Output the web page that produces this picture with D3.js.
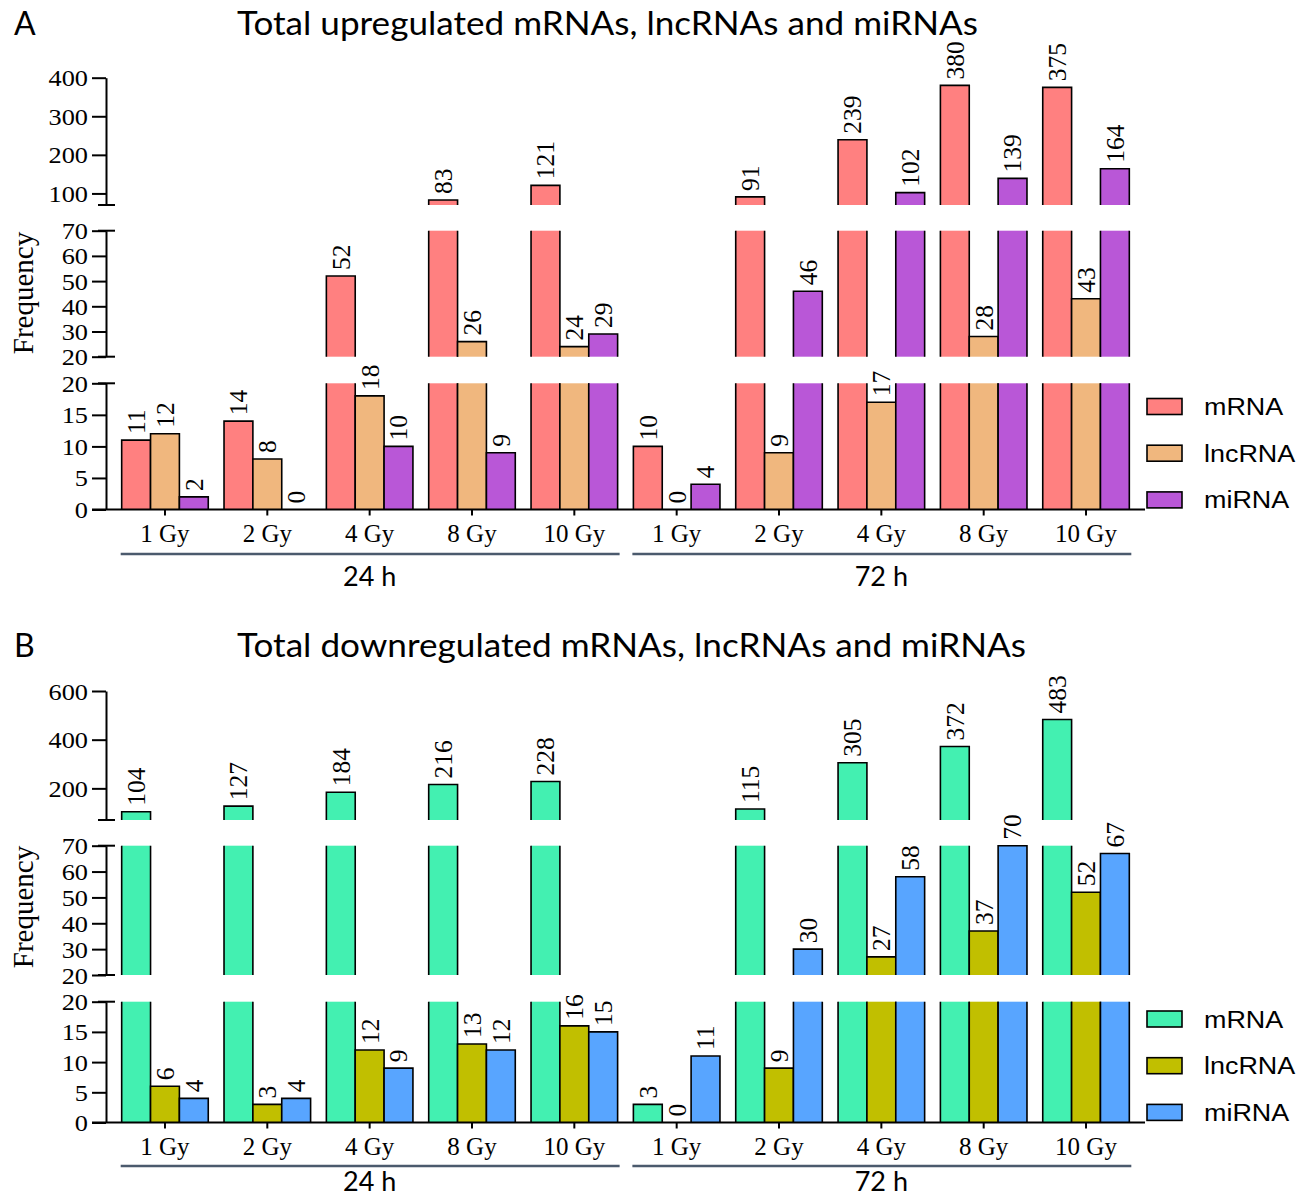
<!DOCTYPE html>
<html><head><meta charset="utf-8">
<script src="https://cdn.jsdelivr.net/npm/d3@7"></script>
<style>
body{margin:0;background:#fff}
svg{display:block}
</style>
</head><body>
<svg id="chart" width="1313" height="1198"></svg>
<script>
// ---- data ----
const doses = ["1 Gy", "2 Gy", "4 Gy", "8 Gy", "10 Gy"];
const timepoints = ["24 h", "72 h"];
const rnaTypes = ["mRNA", "lncRNA", "miRNA"];

// upregulated counts: 24 h (five doses) followed by 72 h (five doses)
const upMRNA    = [11, 14, 52, 83, 121, 10, 91, 239, 380, 375];
const upLncRNA  = [12, 8, 18, 26, 24, 0, 9, 17, 28, 43];
const upMiRNA   = [2, 0, 10, 9, 29, 4, 46, 102, 139, 164];

// downregulated counts
const downMRNA   = [104, 127, 184, 216, 228, 3, 115, 305, 372, 483];
const downLncRNA = [6, 3, 12, 13, 16, 0, 9, 27, 37, 52];
const downMiRNA  = [4, 4, 9, 12, 15, 11, 30, 58, 70, 67];

const upColors   = ["#FF8080", "#F0B77E", "#B957D7"];
const downColors = ["#43F0B1", "#C1BF00", "#58A5FF"];

// broken y-axis pieces and their tick labels
const lowTicks = [0, 5, 10, 15, 20];
const midTicks = [20, 30, 40, 50, 60, 70];
const upTopTicks = [100, 200, 300, 400];
const downTopTicks = [200, 400, 600];

// ---- layout ----
const serif = "'Liberation Serif', 'Times New Roman', serif";
const sans = "'Liberation Sans', Arial, sans-serif";
const titleFont = "Lato, 'Open Sans', sans-serif";
const axisX = 106;

const svg = d3.select("#chart");

const groupKeys = timepoints.flatMap(t => doses.map(d => t + "|" + d));
const x = d3.scaleBand().domain(groupKeys)
  .range([113.8, 1137.2]).paddingInner(0.154).paddingOuter(0.077);
const xSub = d3.scaleBand().domain(rnaTypes).range([0, x.bandwidth()]);

function stretch(sel, factor) {
  sel.each(function () {
    const w = this.getComputedTextLength();
    d3.select(this).attr("textLength", w * factor).attr("lengthAdjust", "spacingAndGlyphs");
  });
}

function drawPanel(cfg) {
  const g = svg.append("g");
  const series = cfg.series;

  // panel letter and title
  g.append("text").attr("x", 14).attr("y", cfg.titleY)
    .attr("font-family", titleFont).attr("font-size", 32).text(cfg.letter);
  g.append("text").attr("x", cfg.titleX).attr("y", cfg.titleY)
    .attr("font-family", titleFont).attr("font-size", 32)
    .attr("textLength", cfg.titleLen).attr("lengthAdjust", "spacingAndGlyphs")
    .text(cfg.title);

  cfg.segments.forEach((seg, si) => {
    const y = d3.scaleLinear().domain(seg.domain).range(seg.range);
    const [lo, hi] = seg.domain;
    const isBottom = si === 0;

    // bars
    const bars = g.append("g");
    groupKeys.forEach((key, gi) => {
      rnaTypes.forEach((type, ti) => {
        const v = series[ti][gi];
        if (isBottom ? v <= 0 : v <= lo) return;
        const left = x(key) + xSub(type);
        const right = left + xSub.bandwidth();
        const top = Math.min(v, hi);
        const y0 = y(lo), y1 = y(top);
        bars.append("rect").attr("x", left).attr("y", y1)
          .attr("width", right - left).attr("height", y0 - y1)
          .attr("fill", cfg.colors[ti]);
        const p = d3.path();
        p.moveTo(left, y0); p.lineTo(left, y1);
        if (v <= hi) { p.lineTo(right, y1); } else { p.moveTo(right, y1); }
        p.lineTo(right, y0);
        bars.append("path").attr("d", p.toString())
          .attr("fill", "none").attr("stroke", "#000").attr("stroke-width", 1.6);
      });
    });

    // value labels belong to the piece that holds the bar's top
    groupKeys.forEach((key, gi) => {
      rnaTypes.forEach((type, ti) => {
        const v = series[ti][gi];
        const inside = isBottom ? v <= hi : (v > lo && (si === cfg.segments.length - 1 || v <= hi));
        if (!inside) return;
        const cx = x(key) + xSub(type) + xSub.bandwidth() / 2;
        g.append("text")
          .attr("transform", `translate(${cx},${y(v) - 6}) rotate(-90)`)
          .attr("dy", "0.35em")
          .attr("font-family", serif).attr("font-size", 25.5)
          .text(v);
      });
    });

    // axis piece
    const ax = g.append("g").attr("transform", `translate(${axisX},0)`)
      .call(d3.axisLeft(y).tickValues(seg.ticks).tickSize(14).tickSizeOuter(0).tickPadding(4));
    ax.select(".domain").attr("stroke-width", 2);
    ax.selectAll(".tick line").attr("stroke-width", 2);
    ax.selectAll(".tick text").attr("font-family", serif).attr("font-size", 23.5)
      .attr("dy", "0.34em").call(stretch, 1.12);

    // caps at the breaks
    if (!isBottom) {
      g.append("line").attr("x1", axisX - 8).attr("x2", axisX + 9)
        .attr("y1", y(lo)).attr("y2", y(lo)).attr("stroke", "#000").attr("stroke-width", 2);
    }
    if (si < cfg.segments.length - 1) {
      g.append("line").attr("x1", axisX - 8).attr("x2", axisX + 9)
        .attr("y1", y(hi)).attr("y2", y(hi)).attr("stroke", "#000").attr("stroke-width", 2);
    }
  });

  // x baseline and category ticks
  const base = cfg.segments[0].range[0];
  g.append("line").attr("x1", axisX - 14).attr("x2", 1145)
    .attr("y1", base).attr("y2", base).attr("stroke", "#000").attr("stroke-width", 2);
  const xa = g.append("g").attr("transform", `translate(0,${base})`)
    .call(d3.axisBottom(x).tickSize(6).tickSizeOuter(0).tickPadding(6)
      .tickFormat(k => k.split("|")[1]));
  xa.select(".domain").remove();
  xa.selectAll(".tick line").attr("stroke-width", 2);
  xa.selectAll(".tick text").attr("font-family", serif).attr("font-size", 25)
    .attr("dy", null).attr("y", cfg.xLabelY - base);

  // time point brackets
  timepoints.forEach(t => {
    const keys = groupKeys.filter(k => k.startsWith(t));
    const x0 = x(keys[0]), x1 = x(keys[keys.length - 1]) + x.bandwidth();
    g.append("line").attr("x1", x0 - 1).attr("x2", x1 + 2)
      .attr("y1", cfg.lineY).attr("y2", cfg.lineY)
      .attr("stroke", "#4B5A6D").attr("stroke-width", 2.5);
    g.append("text").attr("x", (x0 + x1) / 2).attr("y", cfg.groupY)
      .attr("text-anchor", "middle").attr("font-family", titleFont).attr("font-size", 27)
      .text(t);
  });

  // y title
  g.append("text").attr("transform", `translate(33,${cfg.freqY}) rotate(-90)`)
    .attr("text-anchor", "middle").attr("font-family", serif).attr("font-size", 29)
    .text("Frequency");

  // legend
  rnaTypes.forEach((type, i) => {
    const cy = cfg.legendY + i * 46.7;
    g.append("rect").attr("x", 1147).attr("y", cy - 8).attr("width", 35).attr("height", 16)
      .attr("fill", cfg.colors[i]).attr("stroke", "#000").attr("stroke-width", 1.6);
    g.append("text").attr("x", 1204).attr("y", cy + 8.5)
      .attr("font-family", sans).attr("font-size", 23).text(type)
      .call(stretch, 1.17);
  });
}

drawPanel({
  letter: "A",
  title: "Total upregulated mRNAs, lncRNAs and miRNAs",
  titleX: 237, titleLen: 741, titleY: 35,
  series: [upMRNA, upLncRNA, upMiRNA],
  colors: upColors,
  segments: [
    { domain: [0, 20], range: [509.5, 383.3], ticks: lowTicks },
    { domain: [20, 70], range: [356.7, 230.7], ticks: midTicks },
    { domain: [70, 400], range: [205, 77.7], ticks: upTopTicks }
  ],
  xLabelY: 542, lineY: 554, groupY: 586, freqY: 293, legendY: 406.5
});

drawPanel({
  letter: "B",
  title: "Total downregulated mRNAs, lncRNAs and miRNAs",
  titleX: 237, titleLen: 789, titleY: 657,
  series: [downMRNA, downLncRNA, downMiRNA],
  colors: downColors,
  segments: [
    { domain: [0, 20], range: [1122.5, 1001.7], ticks: lowTicks },
    { domain: [20, 70], range: [975, 845.7], ticks: midTicks },
    { domain: [70, 600], range: [820, 691], ticks: downTopTicks }
  ],
  xLabelY: 1155, lineY: 1166, groupY: 1191, freqY: 907, legendY: 1019
});
</script>
</body></html>
